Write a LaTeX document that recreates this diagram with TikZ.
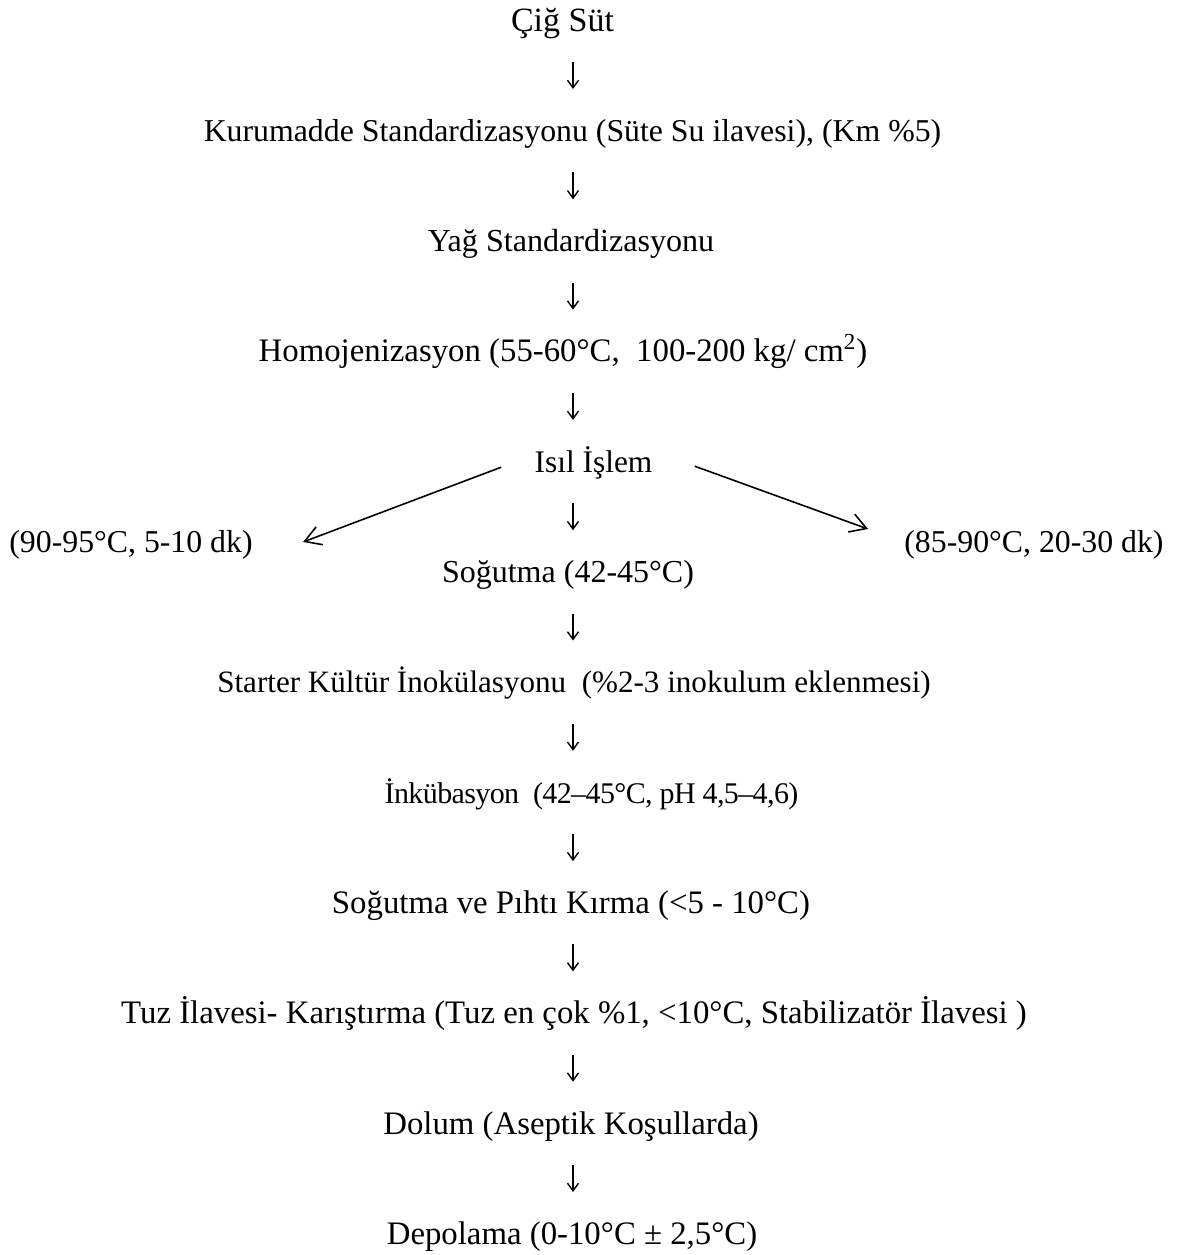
\documentclass[tikz,border=0pt]{standalone}
\usepackage{fontspec}
\setmainfont{Liberation Serif}
\usetikzlibrary{arrows.meta}

\begin{document}
\begin{tikzpicture}[x=0.5pt, y=-0.5pt, >={Straight Barb[length=3.8pt,width=5.5pt]},
    every node/.style={inner sep=0pt, font=\fontsize{16.4}{20}\selectfont},
    fs/.style={font=\fontsize{#1}{20}\selectfont},
    adim/.style={anchor=base},
    dn/.style={->, line width=0.7pt, shorten <=15.5pt, shorten >=26.15pt},
    yan/.style={-{Straight Barb[length=8pt,width=9.5pt]}, line width=0.8pt}]
\useasboundingbox (0,0) rectangle (1184,1255);
\coordinate (eksen) at (573,0);

\node[adim, fs=17] (sut) at (562.5,31) {Çiğ Süt};
\node[adim, fs=15.9] (km) at (572.5,141.3) {Kurumadde Standardizasyonu (Süte Su ilavesi), (Km \%5)};
\node[adim, fs=16.05] (yag) at (571,251.6) {Yağ Standardizasyonu};
\node[adim] (homo) at (563,361.9) {Homojenizasyon (55-60°C,~ 100-200 kg/ cm\textsuperscript{2})};
\node[adim, fs=15.7] (isil) at (593.5,472.2) {Isıl İşlem};
\node[adim, fs=16] (sog) at (568,582.5) {Soğutma (42-45°C)};
\node[adim, fs=15.55] (star) at (574,692.8) {Starter Kültür İnokülasyonu~ (\%2-3 inokulum eklenmesi)};
\node[adim, fs=15] (ink) at (591.5,803.1) {\addfontfeature{LetterSpace=-2}İnkübasyon~ (42–45°C, pH 4,5–4,6)};
\node[adim] (kir) at (571,913.4) {Soğutma ve Pıhtı Kırma (<5 - 10°C)};
\node[adim] (tuz) at (574,1023.7) {Tuz İlavesi- Karıştırma (Tuz en çok \%1, <10°C, Stabilizatör İlavesi )};
\node[adim] (dol) at (571,1134) {Dolum (Aseptik Koşullarda)};
\node[adim] (dep) at (572,1244.3) {Depolama (0-10°C ± 2,5°C)};

% isil islem secenekleri
\node[anchor=base west, fs=15.9] (sol) at (9,552) {(90-95°C, 5-10 dk)};
\node[anchor=base west, fs=15.9] (sag) at (904,552) {(85-90°C, 20-30 dk)};

\foreach \a/\b in {sut/km, km/yag, yag/homo, homo/isil, isil/sog, sog/star, star/ink, ink/kir, kir/tuz, tuz/dol, dol/dep}
{
    \draw[dn] (\a.base -| eksen)--(\b.base -| eksen);
}

\draw[yan] ([xshift=-16.5pt,yshift=2.5pt]isil.base west)--([xshift=25pt,yshift=5pt]sol.base east);
\draw[yan] ([xshift=21pt,yshift=3pt]isil.base east)--([xshift=-18pt,yshift=11.5pt]sag.base west);

\end{tikzpicture}
\end{document}
